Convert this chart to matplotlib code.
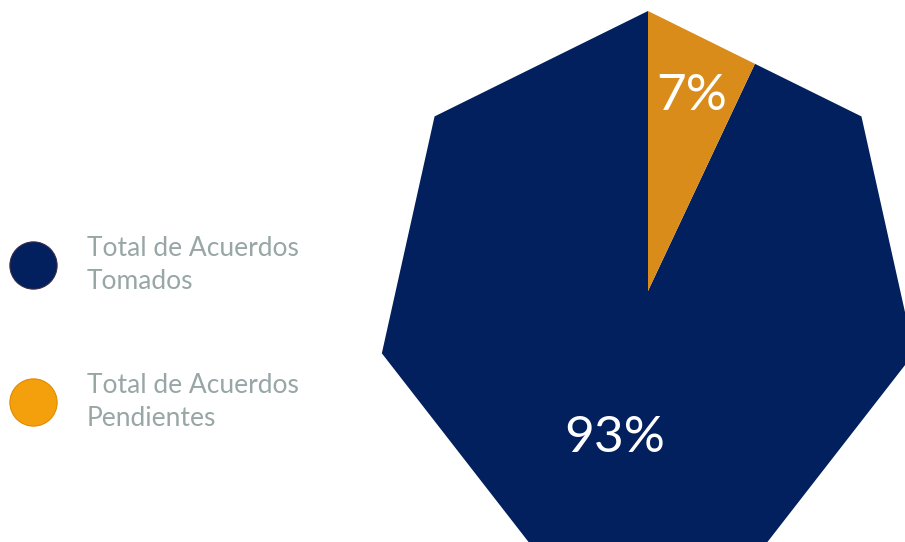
import numpy as np
import matplotlib.pyplot as plt
from matplotlib.patches import PathPatch
from matplotlib.path import Path

# --- data ---
labels = ["Total de Acuerdos\nTomados", "Total de Acuerdos\nPendientes"]
values = [93, 7]
colors = ["#021F5E", "#DA8C1B"]
legend_colors = ["#021F5E", "#F4A00C"]

plt.rcParams["font.family"] = ["Lato", "DejaVu Sans"]


def main():
    W, H = 905, 542
    fig = plt.figure(figsize=(W / 100, H / 100), dpi=100)
    ax = fig.add_axes([0, 0, 1, 1])

    # heptagon-shaped pie: normal pie, then mask outside the heptagon
    cx, cy = 648, H - 291
    Rx, Ry = 273, 280
    wedges, _, autotexts = ax.pie(
        values, colors=colors, startangle=90, counterclock=True,
        radius=Ry + 4, center=(cx, cy), autopct="%1.0f%%", frame=True,
        wedgeprops=dict(linewidth=0),
        textprops=dict(color="white", fontsize=37),
    )
    ang = np.deg2rad(90 - np.arange(8) * 360 / 7)
    hept = np.column_stack([cx + Rx * np.cos(ang), cy + Ry * np.sin(ang)])
    circ = Path.circle((cx, cy), Ry + 20)
    inner = Path(hept, closed=True)
    mask = Path.make_compound_path(circ, inner)
    ax.add_patch(PathPatch(mask, facecolor="white", edgecolor="none", zorder=2))

    # label placement along each wedge's mid-angle
    label_dist = [151, 200]
    for w, t, d in zip(wedges, autotexts, label_dist):
        mid = np.deg2rad((w.theta1 + w.theta2) / 2)
        t.set_position((cx + d * np.cos(mid), cy + d * np.sin(mid)))
        t.set_ha("center")
        t.set_va("center")
        t.set_zorder(3)

    # legend (manual)
    leg_y = [H - 265, H - 402]
    edge = ["#3a2a4a", "#E08A00"]
    for lab, col, ec, y in zip(labels, legend_colors, edge, leg_y):
        ax.scatter([33], [y], s=34 ** 2, color=col, zorder=3,
                   edgecolors=ec, linewidths=0.8)
        ax.text(87, y, lab, color="#98A6A6", fontsize=19, ha="left", va="center",
                linespacing=1.4)

    ax.set_xlim(0, W)
    ax.set_ylim(0, H)
    ax.set_aspect("auto")
    ax.axis("off")

    fig.savefig("out.png", dpi=100)
    plt.close(fig)


if __name__ == "__main__":
    main()
